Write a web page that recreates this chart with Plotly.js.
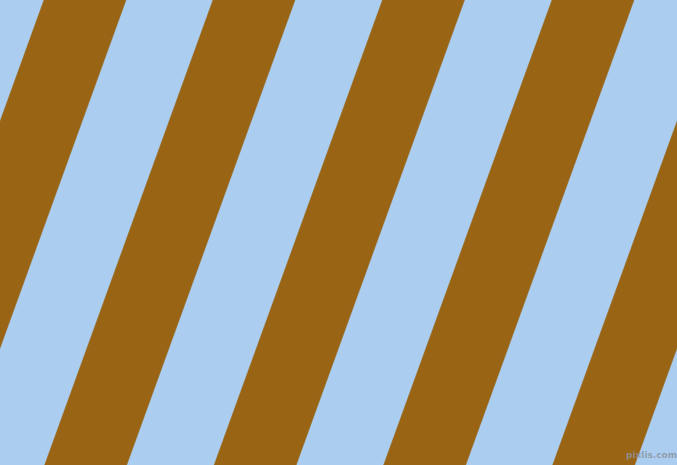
<!DOCTYPE html>
<html>
<head>
<meta charset="utf-8">
<script src="https://cdn.plot.ly/plotly-3.0.1.min.js"></script>
<style>
  html, body { margin: 0; padding: 0; background: #ABCDEF; }
  #chart { width: 677px; height: 465px; }
</style>
</head>
<body>
<div id="chart"></div>
<script>
// 斜めストライプ(茶と水色)。上端で茶の帯が始まる x 位置と、帯の幅・傾き
const stripeStarts = [-125, 44, 213, 382.5, 552, 721]
const stripeWidth = 82
const stripeLean = 0.362   // y が 1 増えるごとに左へずれる量
const canvasWidth = 677
const canvasHeight = 465
const watermarkText = "pixlis.com"

const brown = "#996515"
const lightBlue = "#ABCDEF"

const traces = stripeStarts.map((start) => {
  const shift = stripeLean * canvasHeight
  return {
    type: "scatter",
    mode: "lines",
    x: [start, start + stripeWidth, start + stripeWidth - shift, start - shift, start],
    y: [0, 0, canvasHeight, canvasHeight, 0],
    fill: "toself",
    fillcolor: brown,
    line: { color: brown, width: 0.5 },
    hoverinfo: "skip",
    showlegend: false
  }
})

Plotly.newPlot("chart", traces, {
  width: canvasWidth,
  height: canvasHeight,
  margin: { l: 0, r: 0, t: 0, b: 0 },
  paper_bgcolor: lightBlue,
  plot_bgcolor: lightBlue,
  xaxis: { range: [0, canvasWidth], visible: false, fixedrange: true },
  yaxis: { range: [canvasHeight, 0], visible: false, fixedrange: true },
  annotations: [ {
    text: "<b>" + watermarkText + "</b>",
    x: 651, y: 454.5, xref: "x", yref: "y",
    showarrow: false,
    font: { family: "DejaVu Sans", size: 9, color: "rgba(140,150,162,0.85)" }
  } ]
}, { displayModeBar: false, staticPlot: true })
</script>
</body>
</html>
